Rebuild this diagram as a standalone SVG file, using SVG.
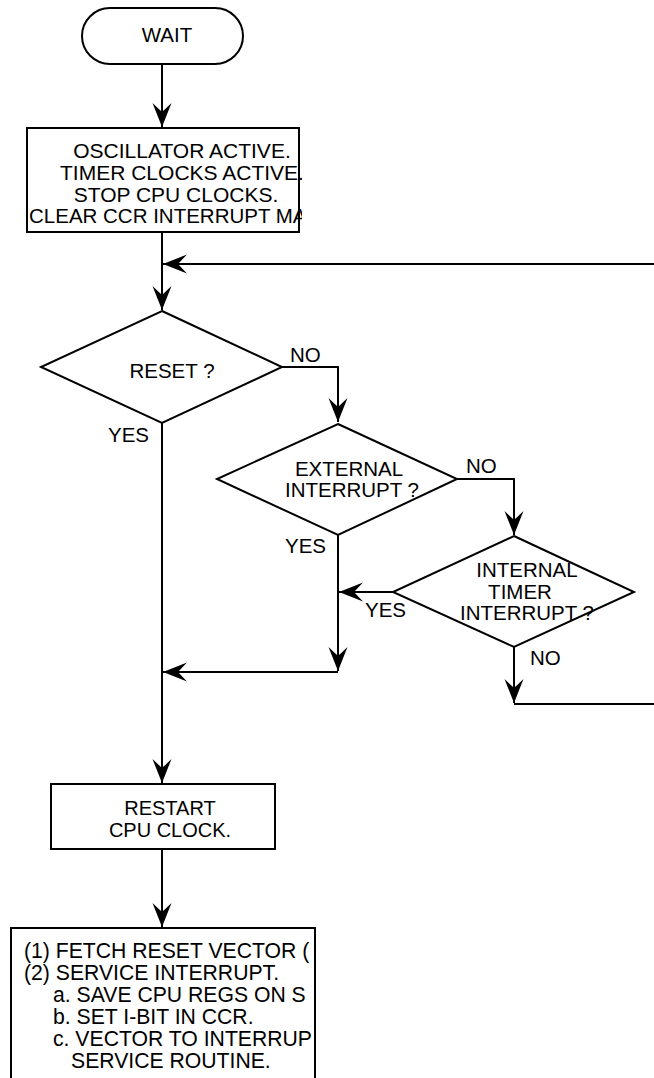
<svg xmlns="http://www.w3.org/2000/svg" width="654" height="1078" viewBox="0 0 654 1078">
<style>
.s{fill:#fff;stroke:#000;stroke-width:2}
.c{fill:none;stroke:#000;stroke-width:2}
text{font-family:"Liberation Sans",Arial,sans-serif;font-size:20.5px;fill:#000}
.m{text-anchor:middle}
.b1 text{font-size:21px}
.b1 text.n{font-size:20.5px}
.b2 text{font-size:21.2px}
.b3 text{font-size:20px}
</style>
<defs>
<marker id="ah" markerUnits="userSpaceOnUse" markerWidth="26" markerHeight="22" refX="24" refY="10" orient="auto">
<path d="M0,0.5 L24,10 L0,19.5 L9,10 Z" fill="#000"/>
</marker>
<clipPath id="cb1"><rect x="0" y="128" width="302" height="104"/></clipPath>
<clipPath id="cb2"><rect x="0" y="928" width="315" height="150"/></clipPath>
</defs>
<g id="connectors">
<path class="c" d="M162,64 V127" marker-end="url(#ah)"/>
<path class="c" d="M162,232 V310" marker-end="url(#ah)"/>
<path class="c" d="M654,264 H163" marker-end="url(#ah)"/>
<path class="c" d="M282,367 H338 V422" marker-end="url(#ah)"/>
<path class="c" d="M162,423 V783" marker-end="url(#ah)"/>
<path class="c" d="M457,479 H514 V535" marker-end="url(#ah)"/>
<path class="c" d="M338,535 V671" marker-end="url(#ah)"/>
<path class="c" d="M338,672 H163" marker-end="url(#ah)"/>
<path class="c" d="M393,592 H339" marker-end="url(#ah)"/>
<path class="c" d="M514,647 V703" marker-end="url(#ah)"/>
<path class="c" d="M514,704 H654"/>
<path class="c" d="M162,849 V927" marker-end="url(#ah)"/>
</g>
<g id="wait">
<rect class="s" x="82" y="8" width="161" height="56" rx="28"/>
<text class="m" x="167" y="42">WAIT</text>
</g>
<g id="box1" class="b1">
<rect class="s" x="27" y="128" width="272" height="104"/>
<g clip-path="url(#cb1)">
<text class="m" x="182" y="158">OSCILLATOR ACTIVE.</text>
<text class="m" x="182" y="180">TIMER CLOCKS ACTIVE.</text>
<text class="m" x="176" y="202">STOP CPU CLOCKS.</text>
<text class="n" x="29" y="223">CLEAR CCR INTERRUPT MA</text>
</g>
</g>
<g id="reset">
<polygon class="s" points="162,311 282,367 162,423 41,367"/>
<text class="m" x="172" y="378">RESET ?</text>
<text x="290" y="362">NO</text>
<text x="108" y="442">YES</text>
</g>
<g id="external">
<polygon class="s" points="338,424 457,479 338,535 217,479"/>
<text class="m" x="349" y="476">EXTERNAL</text>
<text class="m" x="352" y="497">INTERRUPT ?</text>
<text x="466" y="473">NO</text>
<text x="285" y="553">YES</text>
</g>
<g id="internal">
<polygon class="s" points="514,536 634,592 514,647 393,592"/>
<text class="m" x="527" y="577">INTERNAL</text>
<text class="m" x="520" y="599">TIMER</text>
<text class="m" x="527" y="620">INTERRUPT ?</text>
<text x="365" y="617">YES</text>
<text x="530" y="665">NO</text>
</g>
<g id="restart" class="b3">
<rect class="s" x="51" y="784" width="224" height="65"/>
<text class="m" x="170" y="815">RESTART</text>
<text class="m" x="170" y="837">CPU CLOCK.</text>
</g>
<g id="service" class="b2">
<rect class="s" x="11" y="928" width="304" height="160"/>
<g clip-path="url(#cb2)">
<text x="24" y="958">(1) FETCH RESET VECTOR (</text>
<text x="24" y="980">(2) SERVICE INTERRUPT.</text>
<text x="53" y="1002">a. SAVE CPU REGS ON S</text>
<text x="53" y="1024">b. SET I-BIT IN CCR.</text>
<text x="53" y="1046">c. VECTOR TO INTERRUP</text>
<text x="71" y="1068">SERVICE ROUTINE.</text>
</g>
</g>
</svg>
